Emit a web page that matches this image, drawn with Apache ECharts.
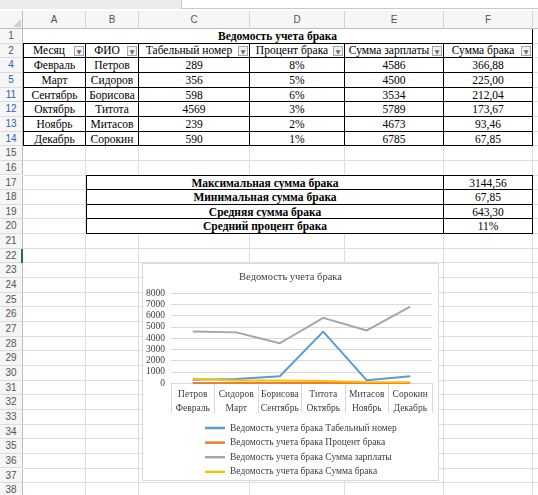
<!DOCTYPE html>
<html>
<head>
<meta charset="utf-8">
<script src="https://cdn.jsdelivr.net/npm/echarts@6/dist/echarts.min.js"></script>
<style>
body { margin: 0; width: 538px; height: 495px; overflow: hidden; background: #fff; position: relative; font-family: "Liberation Serif", serif; }
.b { position: absolute; box-sizing: border-box; white-space: nowrap; overflow: hidden; }
.t { font-size: 11.5px; color: #000; text-align: center; }
.h { font-family: "Liberation Sans", sans-serif; font-size: 10px; color: #555; text-align: center; }
#chart { position: absolute; left: 142px; top: 263px; width: 297px; height: 218px; background: #fff; border: 1px solid #d9d9d9; box-sizing: border-box; }
</style>
</head>
<body>
<div id="sheet"></div>
<div id="chart"></div>
<script>
// данные таблицы
var months = ["Февраль", "Март", "Сентябрь", "Октябрь", "Ноябрь", "Декабрь"];
var names = ["Петров", "Сидоров", "Борисова", "Титота", "Митасов", "Сорокин"];
var tabNums = [289, 356, 598, 4569, 239, 590];
var percents = [8, 5, 6, 3, 2, 1];
var salaries = [4586, 4500, 3534, 5789, 4673, 6785];
var defectSums = [366.88, 225.00, 212.04, 173.67, 93.46, 67.85];
var headers = ["Месяц", "ФИО", "Табельный номер", "Процент брака", "Сумма зарплаты", "Сумма брака"];
var summaryLabels = ["Максимальная сумма брака", "Минимальная сумма брака", "Средняя сумма брака", "Средний процент брака"];
var summaryValues = ["3144,56", "67,85", "643,30", "11%"];
var colLetters = ["A", "B", "C", "D", "E", "F", "G"];
var rowNums = [1, 2, 4, 5];
for (var r = 11; r <= 38; r++) rowNums.push(r);

var sheet = document.getElementById("sheet");
var colX = [23, 86, 139, 250, 345, 444, 533, 600];
var rowH = 14.65;
function rt (k) { return 29 + k * rowH; }

function box (x, y, w, h, css, cls, text) {
	var d = document.createElement("div");
	d.className = "b " + (cls || "");
	d.style.left = x + "px";
	d.style.top = y + "px";
	d.style.width = w + "px";
	d.style.height = h + "px";
	if (css) d.style.cssText += css;
	if (text !== undefined) {
		d.textContent = text;
		d.style.lineHeight = h + "px";
	}
	sheet.appendChild(d);
	return d;
}
function fmt (v) { return v.toFixed(2).replace(".", ","); }

// верхняя полоса
box(0, 0, 181, 9, "background:#ececec;");
box(181, 0, 357, 9, "background:#fff;border-left:1px solid #c8c8c8;border-bottom:1px solid #c8c8c8;");

// сетка
for (var i = 0; i < rowNums.length; i++) {
	box(23, rt(i + 1) - 1, 515, 1, "background:#dedede;");
}
for (var c = 1; c < colX.length - 1; c++) {
	box(colX[c] - 1, 29, 1, 466, "background:#dedede;");
}

// заголовки столбцов
box(0, 11, 538, 18, "background:#f6f6f6;border-bottom:1px solid #bdbdbd;");
box(0, 11, 23, 18, "border-right:1px solid #bdbdbd;");
box(13, 19, 8, 8, "background:#cfcfcf;clip-path:polygon(100% 0,100% 100%,0 100%);");
for (var c = 0; c < 7; c++) {
	box(colX[c], 11, colX[c + 1] - colX[c], 18, "border-right:1px solid #d4d4d4;", "h", colLetters[c]);
}

// номера строк
for (var i = 0; i < rowNums.length; i++) {
	var blue = (rowNums[i] >= 4 && rowNums[i] <= 14);
	box(0, rt(i), 23, rowH, "background:#f6f6f6;border-right:1px solid #bdbdbd;border-bottom:1px solid #dcdcdc;" + (blue ? "color:#2f5fbf;" : ""), "h", String(rowNums[i]));
}
box(21, rt(rowNums.indexOf(22)), 2, rowH, "background:#217346;");

// заголовок таблицы
box(colX[0], rt(0), colX[6] - colX[0], rowH, "border-right:1px solid #000;border-bottom:1px solid #000;background:#fff;font-weight:bold;", "t", "Ведомость учета брака");

// шапка с фильтрами
for (var c = 0; c < 6; c++) {
	var w = colX[c + 1] - colX[c];
	box(colX[c], rt(1), w, rowH, "background:#fff;border:1px solid #000;border-top:none;" + (c ? "border-left:none;" : ""));
	box(colX[c] + 1, rt(1), w - 13, rowH - 1, "", "t", headers[c]);
	box(colX[c + 1] - 12, rt(1) + 2, 10, 10, "background:#f2f2f2;border:1px solid #a6a6a6;font-family:'DejaVu Sans';font-size:6px;color:#666;text-align:center;line-height:9px;", "", "▼");
}

// строки данных
for (var i = 0; i < months.length; i++) {
	var vals = [months[i], names[i], String(tabNums[i]), percents[i] + "%", String(salaries[i]), fmt(defectSums[i])];
	for (var c = 0; c < 6; c++) {
		box(colX[c], rt(i + 2), colX[c + 1] - colX[c], rowH, "background:#fff;border-right:1px solid #000;border-bottom:1px solid #000;" + (c ? "" : "border-left:1px solid #000;"), "t", vals[c]);
	}
}

// итоги
var k0 = rowNums.indexOf(17);
for (var i = 0; i < summaryLabels.length; i++) {
	box(colX[1], rt(k0 + i) - (i ? 0 : 1), colX[5] - colX[1], rowH + (i ? 0 : 1), "background:#fff;border:1px solid #000;" + (i ? "border-top:none;" : "") + "font-weight:bold;", "t", summaryLabels[i]);
	box(colX[5] - 1, rt(k0 + i) - (i ? 0 : 1), colX[6] - colX[5] + 1, rowH + (i ? 0 : 1), "background:#fff;border:1px solid #000;" + (i ? "border-top:none;" : ""), "t", summaryValues[i]);
}

// диаграмма
var cc = echarts.init(document.getElementById("chart"));
var cats = [];
for (var i = 0; i < names.length; i++) {
	cats.push(names[i] + "\n" + months[i]);
}
var pct = percents.map(function (p) { return p / 100; });
var pre = "Ведомость учета брака ";
var txt = "#404040";

var op = {
	textStyle: { fontFamily: "Liberation Serif" },
	title: {
		text: "Ведомость учета брака",
		left: "center",
		top: 3,
		textStyle: { fontFamily: "Liberation Serif", fontSize: 10.5, fontWeight: "normal", color: txt }
	},
	grid: { left: 28, right: 6, top: 29, bottom: 97 },
	xAxis: {
		type: "category",
		data: cats,
		axisLine: { lineStyle: { color: "#d9d9d9" } },
		axisTick: { show: true, interval: 0, length: 30, lineStyle: { color: "#d9d9d9" } },
		axisLabel: { interval: 0, color: txt, fontSize: 9.5, lineHeight: 14, margin: 4, fontFamily: "Liberation Serif" }
	},
	yAxis: {
		type: "value",
		min: 0,
		max: 8000,
		interval: 1000,
		axisLine: { show: false },
		axisTick: { show: false },
		axisLabel: { color: txt, fontSize: 9.5, margin: 6, fontFamily: "Liberation Serif", formatter: function (v) { return String(v); } },
		splitLine: { lineStyle: { color: "#d9d9d9" } }
	},
	legend: {
		orient: "vertical",
		left: 62,
		top: 158,
		padding: 0,
		height: 60,
		icon: "rect",
		itemWidth: 20,
		itemHeight: 2.5,
		itemGap: 2.6,
		textStyle: { fontSize: 9.5, color: txt, lineHeight: 12, fontFamily: "Liberation Serif" }
	},
	series: [
		{ name: pre + "Табельный номер", type: "line", data: tabNums, showSymbol: false, lineStyle: { width: 2, color: "#5B9BD5" }, itemStyle: { color: "#5B9BD5" } },
		{ name: pre + "Процент брака", type: "line", data: pct, showSymbol: false, lineStyle: { width: 2, color: "#ED7D31" }, itemStyle: { color: "#ED7D31" } },
		{ name: pre + "Сумма зарплаты", type: "line", data: salaries, showSymbol: false, lineStyle: { width: 2, color: "#A5A5A5" }, itemStyle: { color: "#A5A5A5" } },
		{ name: pre + "Сумма брака", type: "line", data: defectSums, showSymbol: false, lineStyle: { width: 2, color: "#FFC000" }, itemStyle: { color: "#FFC000" } }
	]
};

cc.setOption(op);
</script>
</body>
</html>
